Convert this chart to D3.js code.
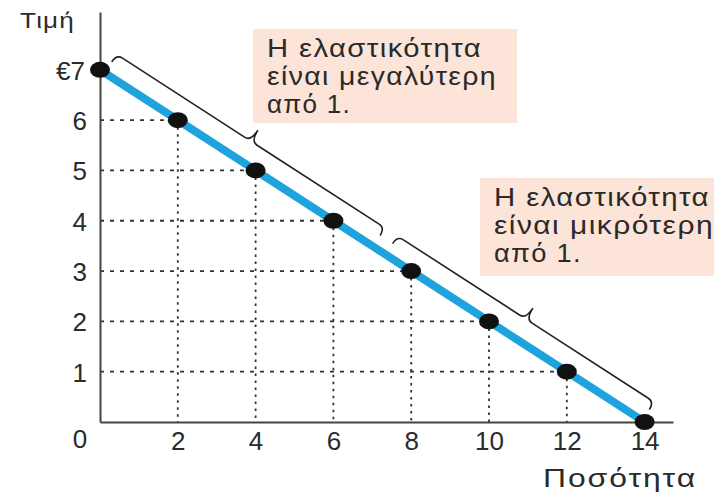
<!DOCTYPE html>
<html>
<head>
<meta charset="utf-8">
<script src="https://cdn.jsdelivr.net/npm/d3@7"></script>
<style>
  html, body { margin: 0; padding: 0; background: #fff; }
  svg { display: block; font-family: "Liberation Sans", Arial, Helvetica, sans-serif; }
</style>
</head>
<body>
<div id="chart"></div>
<script>
// ---- data ----
const quantity = [0, 2, 4, 6, 8, 10, 12, 14];
const price = [7, 6, 5, 4, 3, 2, 1, 0];
const xTickValues = [2, 4, 6, 8, 10, 12, 14];
const xTickLabels = ["2", "4", "6", "8", "10", "12", "14"];
const yTickValues = [1, 2, 3, 4, 5, 6, 7];
const yTickLabels = ["1", "2", "3", "4", "5", "6", "€7"];
const yAxisTitle = "Τιμή";
const xAxisTitle = "Ποσότητα";
const braceRanges = [[0.12, 7.02], [7.34, 13.94]];
const noteLines1 = ["Η ελαστικότητα", "είναι μεγαλύτερη", "από 1."];
const noteLines2 = ["Η ελαστικότητα", "είναι μικρότερη", "από 1."];

const W = 714, H = 492;
const svg = d3.select("#chart").append("svg").attr("width", W).attr("height", H);

const x = d3.scaleLinear().domain([0, 14.73]).range([100, 673]);
const y = d3.scaleLinear().domain([0, 8.15]).range([422, 12]);

const pts = quantity.map((q, i) => ({ q, p: price[i] }));

// dotted guide lines
const guides = svg.append("g");
pts.filter(d => d.p > 0 && d.q > 0).forEach(d => {
  guides.append("line")
    .attr("x1", x(0)).attr("x2", x(d.q))
    .attr("y1", y(d.p)).attr("y2", y(d.p))
    .attr("stroke", "#333").attr("stroke-width", 1.8)
    .attr("stroke-dasharray", "4,6");
  guides.append("line")
    .attr("x1", x(d.q)).attr("x2", x(d.q))
    .attr("y1", y(d.p)).attr("y2", y(0))
    .attr("stroke", "#333").attr("stroke-width", 1.8)
    .attr("stroke-dasharray", "2.5,4.5");
});

// axes
const xAxis = d3.axisBottom(x).tickValues(xTickValues)
  .tickFormat((d, i) => xTickLabels[i]).tickSize(0).tickPadding(10);
const yAxis = d3.axisLeft(y).tickValues(yTickValues)
  .tickFormat((d, i) => yTickLabels[i]).tickSize(0).tickPadding(13);

const gx = svg.append("g").attr("transform", `translate(0,${y(0)})`).call(xAxis);
const gy = svg.append("g").attr("transform", `translate(${x(0)},0)`).call(yAxis);
[gx, gy].forEach(g => {
  g.select(".domain").attr("stroke", "#444").attr("stroke-width", 2);
  g.selectAll("text").attr("font-size", 26).attr("fill", "#2b2b2b")
    .attr("font-family", "Liberation Sans, Arial, sans-serif");
});
gy.selectAll("text").attr("dy", "0.36em");
gy.selectAll(".tick").filter(d => d === 7).select("text").attr("x", -15);

svg.append("text").attr("x", 80).attr("y", 448).attr("text-anchor", "middle")
  .attr("font-size", 26).attr("fill", "#2b2b2b").text("0");

svg.append("text").attr("x", 20).attr("y", 28)
  .attr("font-size", 22).attr("fill", "#2b2b2b").attr("letter-spacing", 1)
  .attr("textLength", 55).attr("lengthAdjust", "spacingAndGlyphs").text(yAxisTitle);
svg.append("text").attr("x", 543).attr("y", 487)
  .attr("font-size", 25).attr("fill", "#2b2b2b").attr("letter-spacing", 1.5)
  .attr("textLength", 154).attr("lengthAdjust", "spacingAndGlyphs").text(xAxisTitle);

// demand line
svg.append("path")
  .datum(pts)
  .attr("d", d3.line().x(d => x(d.q)).y(d => y(d.p)))
  .attr("fill", "none").attr("stroke", "#1ea3dc").attr("stroke-width", 8);

// points
svg.append("g").selectAll("ellipse").data(pts).join("ellipse")
  .attr("cx", d => x(d.q)).attr("cy", d => y(d.p))
  .attr("rx", 10).attr("ry", 8).attr("fill", "#111");

// braces
function linePoint(q) { return [x(q), y(7 - q / 2)]; }
const p0 = linePoint(0), p1 = linePoint(14);
const ang = Math.atan2(p1[1] - p0[1], p1[0] - p0[0]) * 180 / Math.PI;
braceRanges.forEach(r => {
  const a = linePoint(r[0]), b = linePoint(r[1]);
  const L = Math.hypot(b[0] - a[0], b[1] - a[1]);
  const m = L / 2, h0 = -13, hb = -22, ht = -35, rr = 7;
  const d = `M0,${h0} Q0,${hb} ${rr},${hb} L${m - rr},${hb} Q${m},${hb} ${m},${ht} Q${m},${hb} ${m + rr},${hb} L${L - rr},${hb} Q${L},${hb} ${L},${h0}`;
  svg.append("path")
    .attr("transform", `translate(${a[0]},${a[1]}) rotate(${ang})`)
    .attr("d", d).attr("fill", "none").attr("stroke", "#222").attr("stroke-width", 1.6);
});

// notes
function note(x0, y0, w, h, lines, widths) {
  const g = svg.append("g");
  g.append("rect").attr("x", x0).attr("y", y0).attr("width", w).attr("height", h).attr("fill", "#fce4d8");
  lines.forEach((t, i) => {
    g.append("text").attr("x", x0 + 14).attr("y", y0 + 28 + i * 28)
      .attr("font-size", 25).attr("fill", "#2a2a2a").attr("letter-spacing", 1.2)
      .attr("textLength", widths[i]).attr("lengthAdjust", "spacingAndGlyphs").text(t);
  });
}
note(253, 29, 264, 94, noteLines1, [215, 230, 84]);
note(480, 178, 234, 98, noteLines2, [216, 220, 88]);
</script>
</body>
</html>
